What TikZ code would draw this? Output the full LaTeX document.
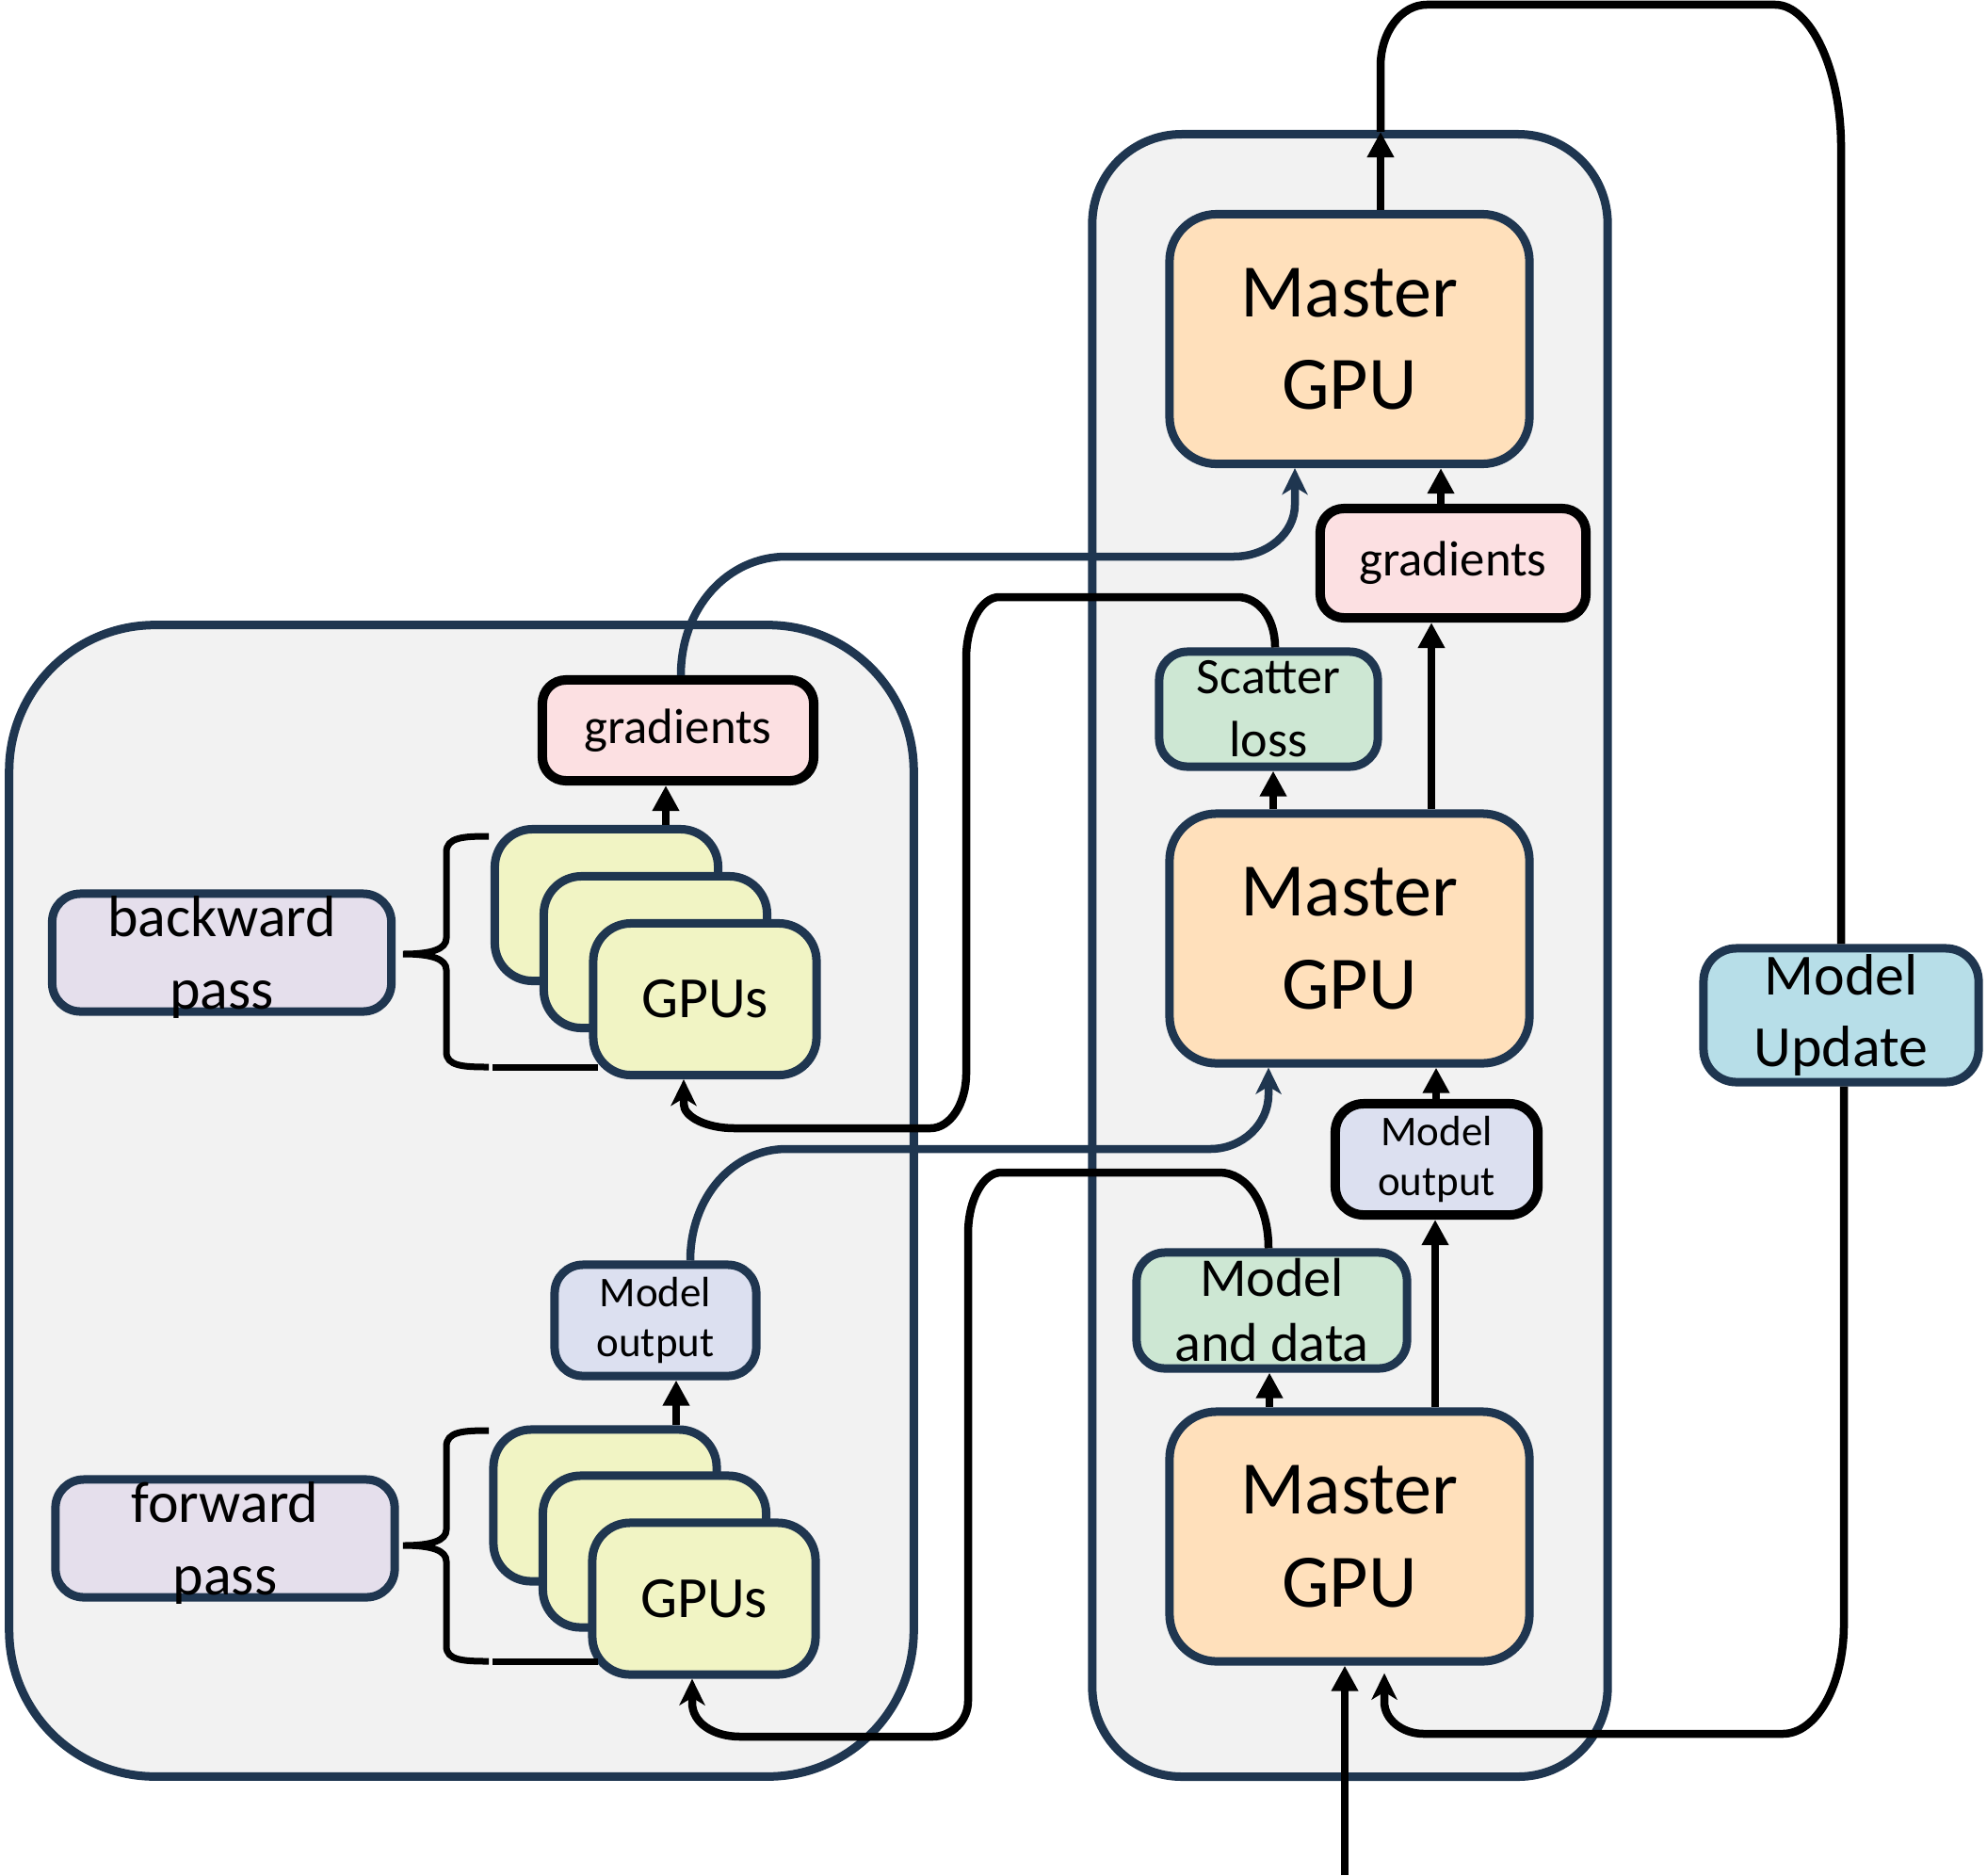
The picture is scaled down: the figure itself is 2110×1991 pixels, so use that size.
\documentclass[tikz,border=0pt]{standalone}
\usepackage{fontspec}
\setmainfont{Carlito}
\usetikzlibrary{arrows.meta}
\definecolor{navy}{HTML}{1F3650}
\definecolor{panelgray}{HTML}{F2F2F2}
\definecolor{peach}{HTML}{FFE0BB}
\definecolor{pinkf}{HTML}{FCE0E2}
\definecolor{mint}{HTML}{CDE7D3}
\definecolor{lav}{HTML}{DCE0F0}
\definecolor{lilac}{HTML}{E5DFEC}
\definecolor{gpuy}{HTML}{F1F4C4}
\definecolor{skyb}{HTML}{B7DEE8}
\newcommand\fz[2]{\fontsize{#1}{#2}\selectfont}
\begin{document}
\begin{tikzpicture}[x=0.01cm,y=-0.01cm,
  base/.style={draw=navy, line width=0.09cm, inner sep=0pt, align=center, text=black},
  panelbox/.style={draw=navy, line width=0.09cm, fill=panelgray, inner sep=0pt},
  master/.style={base, fill=peach, minimum width=3.82cm, minimum height=2.65cm, rounded corners=0.5cm, font=\fz{22.8pt}{27.9pt}},
  gradbox/.style={base, draw=black, line width=0.1cm, fill=pinkf, rounded corners=0.25cm, font=\fz{15pt}{18pt}},
  mintbox/.style={base, fill=mint, rounded corners=0.3cm},
  outbox/.style={base, fill=lav, rounded corners=0.3cm, minimum width=2.14cm, minimum height=1.18cm, font=\fz{12.8pt}{15pt}},
  passbox/.style={base, fill=lilac, rounded corners=0.3cm, minimum width=3.6cm, minimum height=1.25cm, font=\fz{17.6pt}{21.9pt}},
  gpubox/.style={base, fill=gpuy, rounded corners=0.4cm, minimum width=2.37cm, minimum height=1.61cm, font=\fz{17.6pt}{21pt}},
  updbox/.style={base, fill=skyb, rounded corners=0.35cm, minimum width=2.92cm, minimum height=1.42cm, font=\fz{17.6pt}{21.6pt}},
  plainline/.style={line width=0.085cm, draw=black},
  arr/.style={plainline, -{Triangle[length=0.27cm,width=0.27cm]}},
  carr/.style={plainline, -{Stealth[length=0.28cm,width=0.27cm,inset=0.08cm]}},
  navyarr/.style={line width=0.085cm, draw=navy, color=navy, -{Stealth[length=0.28cm,width=0.27cm,inset=0.08cm]}},
  bracepath/.style={line width=0.07cm, draw=black}
]
\useasboundingbox (0,0) rectangle (2110,1991);

% panels
\node[panelbox, rounded corners=1.55cm, minimum width=9.6cm, minimum height=12.22cm] (lpanel) at (490,1275) {};
\node[panelbox, rounded corners=0.95cm, minimum width=5.47cm, minimum height=17.43cm] (rpanel) at (1433.5,1014.5) {};

% right column
\node[master] (mg3) at (1433,360) {Master\\GPU};
\node[master] (mg2) at (1433,996.5) {Master\\GPU};
\node[master] (mg1) at (1433,1631.5) {Master\\GPU};
\node[gradbox, minimum width=2.82cm, minimum height=1.16cm] (gradR) at (1543,598) {gradients};
\node[mintbox, minimum width=2.32cm, minimum height=1.22cm, font=\fz{15.4pt}{19.1pt}] (scat) at (1347,753) {Scatter\\loss};
\node[outbox, draw=black, line width=0.1cm, minimum width=2.15cm] (moR) at (1525.5,1231) {Model\\output};
\node[mintbox, minimum width=2.87cm, minimum height=1.23cm, font=\fz{16.5pt}{19.6pt}] (mdata) at (1350.5,1391.5) {Model\\and data};
\node[updbox] (mu) at (1955,1078) {Model\\Update};

% left column
\node[gradbox, minimum width=2.88cm, minimum height=1.07cm] (gradL) at (720,775.5) {gradients};
\node[passbox] (bwd) at (235.5,1011.5) {backward\\\smash{pass}};
\node[passbox] (fwd) at (239,1633.5) {forward\\\smash{pass}};
\node[outbox] (moL) at (696,1402) {Model\\output};

\node[gpubox] (gpuBback) at (644,961) {};
\node[gpubox] (gpuBmid) at (696,1011) {};
\node[gpubox] (gpuBfront) at (748.5,1061) {GPUs};
\node[gpubox] (gpuFback) at (642.5,1598.5) {};
\node[gpubox] (gpuFmid) at (695,1647.5) {};
\node[gpubox] (gpuFfront) at (747.5,1697.5) {GPUs};

% braces
\draw[bracepath] (519,888) .. controls (492,888) and (474,889) .. (474,905) -- (474,996) .. controls (474,1008) and (458,1013) .. (428,1013) .. controls (458,1013) and (474,1018) .. (474,1030) -- (474,1117) .. controls (474,1132) and (492,1133) .. (519,1133);
\draw[bracepath] (523,1133) -- (635,1133);
\draw[bracepath] (519,1519) .. controls (492,1519) and (474,1520) .. (474,1536) -- (474,1624) .. controls (474,1636) and (458,1641) .. (428,1641) .. controls (458,1641) and (474,1646) .. (474,1658) -- (474,1748) .. controls (474,1763) and (492,1764) .. (519,1764);
\draw[bracepath] (523,1764) -- (635,1764);

% coordinates
\coordinate (ctop) at (1466,140);
\coordinate (src) at (1428,1991);

% straight arrows
\draw[arr] (707,0 |- gpuBback.north) -- (707,0 |- gradL.south);
\draw[arr] (718,0 |- gpuFback.north) -- (718,0 |- moL.south);
\draw[arr] (1348,0 |- mg1.north) -- (1348,0 |- mdata.south);
\draw[arr] (1524,0 |- mg1.north) -- (1524,0 |- moR.south);
\draw[arr] (1525,0 |- moR.north) -- (1525,0 |- mg2.south);
\draw[arr] (1352,0 |- mg2.north) -- (1352,0 |- scat.south);
\draw[arr] (1520,0 |- mg2.north) -- (1520,0 |- gradR.south);
\draw[arr] (1530,0 |- gradR.north) -- (1530,0 |- mg3.south);
\draw[arr] (1466,0 |- mg3.north) -- (ctop);
\draw[arr] (src) -- (1428,0 |- mg1.south);

% curved connectors
\draw[navyarr] (723,0 |- gradL.north) .. controls +(0,-72) and +(-62,0) .. (835,591) -- (1310,591) .. controls +(36,0) and +(0,30) .. (1375,536) -- (1375,0 |- mg3.south);

\draw[carr] (1354,0 |- scat.north) .. controls +(0,-32) and +(22,0) .. (1314,634) -- (1061,634) .. controls +(-19,0) and +(0,-36) .. (1026,699) -- (1026,1140) .. controls +(0,32) and +(21,0) .. (988,1198) -- (780,1198) .. controls +(-30,0) and +(0,14) .. (726,1172) -- (726,0 |- gpuBfront.south);

\draw[navyarr] (733,0 |- moL.north) .. controls +(0,-68) and +(-56,0) .. (835,1220) -- (1285,1220) .. controls +(34,0) and +(0,32) .. (1347,1162) -- (1347,0 |- mg2.south);

\draw[carr] (1347,0 |- mdata.north) .. controls +(0,-47) and +(29,0) .. (1295,1245) -- (1063,1245) .. controls +(-19,0) and +(0,-36) .. (1028,1310) -- (1028,1806) .. controls +(0,21) and +(21,0) .. (990,1844) -- (786,1844) .. controls +(-29,0) and +(0,21) .. (735,1808) -- (735,0 |- gpuFfront.south);

\draw[plainline] (ctop) -- (1466,70) .. controls +(0,-36) and +(-27,0) .. (1515,5) -- (1885,5) .. controls +(37,0) and +(0,-83) .. (1955,156) -- (1955,0 |- mu.north);

\draw[carr, shorten >=0.08cm] (1958,0 |- mu.south) -- (1958,1725) .. controls +(0,64) and +(36,0) .. (1893,1841) -- (1512,1841) .. controls +(-23,0) and +(0,19) .. (1470,1807) -- (1470,0 |- mg1.south);

\end{tikzpicture}
\end{document}
